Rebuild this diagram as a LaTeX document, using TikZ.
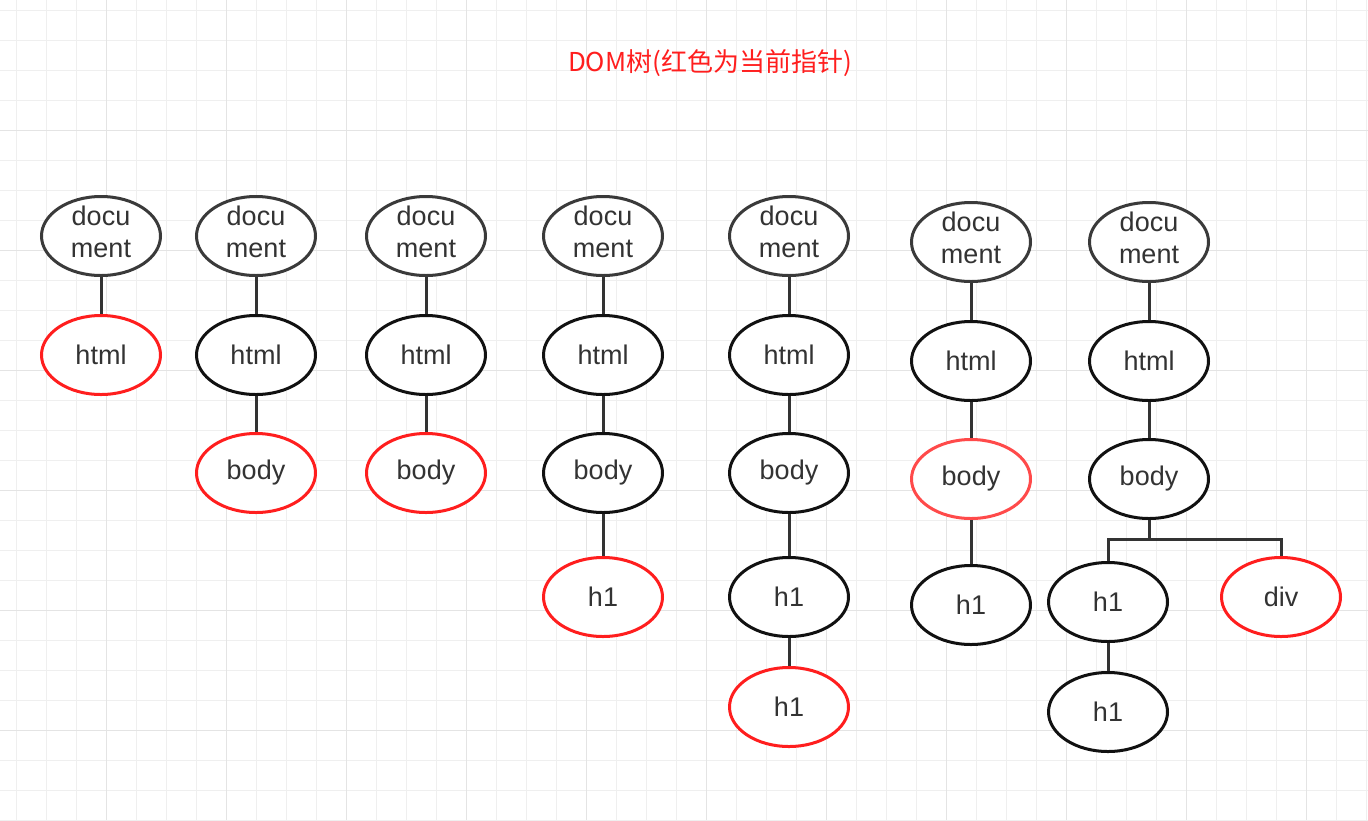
\documentclass[tikz,border=0pt]{standalone}
\usepackage{fontspec}
\setmainfont{Liberation Sans}
\newfontfamily\cjk{Noto Sans CJK SC}
\usetikzlibrary{shapes.geometric}
\definecolor{gridminor}{HTML}{EFEFEF}
\definecolor{gridmajor}{HTML}{E4E4E4}
\definecolor{ptrred}{HTML}{FF1E1E}
\definecolor{ptrredlight}{HTML}{FF4A4A}
\definecolor{nodeblack}{HTML}{111111}
\definecolor{docgrey}{HTML}{3A3A3A}
\definecolor{txtgrey}{HTML}{333333}
\definecolor{edgegrey}{HTML}{333333}
\newcommand{\doclabel}{\raisebox{-5.5pt}[0pt][0pt]{\begin{tabular}{@{}c@{}}docu\\ment\end{tabular}}}
\tikzset{
  tnode/.style={ellipse, draw=nodeblack, line width=3pt, minimum width=119pt, minimum height=79pt,
    inner sep=0pt, align=center, text=txtgrey, font=\fontsize{27}{32}\selectfont, fill=white},
  docnode/.style={tnode, draw=docgrey},
  curnode/.style={tnode, draw=ptrred},
  curnodelight/.style={tnode, draw=ptrredlight},
  edge/.style={draw=edgegrey, line width=3pt},
}
\begin{document}
\begin{tikzpicture}[x=1pt,y=-1pt]
\useasboundingbox (0,0) rectangle (1368,820);
\fill[white] (0,0) rectangle (1368,820);
% grid
\foreach \i in {0,...,45} {\draw[gridminor, line width=1.5pt] (16.7+30*\i,0) -- (16.7+30*\i,820);}
\foreach \i in {0,...,27} {\draw[gridminor, line width=1.5pt] (0,10.7+30*\i) -- (1368,10.7+30*\i);}
\foreach \i in {0,...,10} {\draw[gridmajor, line width=1.5pt] (106.7+120*\i,0) -- (106.7+120*\i,820);}
\foreach \i in {0,...,5} {\draw[gridmajor, line width=1.5pt] (0,130.7+120*\i) -- (1368,130.7+120*\i);}
% title
\node[text=ptrred, font=\cjk\fontsize{26}{30}\selectfont] (title) at (710,63) {DOM树(红色为当前指针)};
% tree 1
\node[docnode] (d1) at (101,236) {\doclabel};
\node[curnode] (h1a) at (101,355) {html};
\draw[edge] (d1) -- (h1a);
% tree 2
\node[docnode] (d2) at (256,236) {\doclabel};
\node[tnode] (ht2) at (256,355) {html};
\node[curnode] (b2) at (256,473) {body};
\draw[edge] (d2) -- (ht2);
\draw[edge] (ht2) -- (b2);
% tree 3
\node[docnode] (d3) at (426,236) {\doclabel};
\node[tnode] (ht3) at (426,355) {html};
\node[curnode] (b3) at (426,473) {body};
\draw[edge] (d3) -- (ht3);
\draw[edge] (ht3) -- (b3);
% tree 4
\node[docnode] (d4) at (603,236) {\doclabel};
\node[tnode] (ht4) at (603,355) {html};
\node[tnode] (b4) at (603,473) {body};
\node[curnode] (hh4) at (603,597) {h1};
\draw[edge] (d4) -- (ht4);
\draw[edge] (ht4) -- (b4);
\draw[edge] (b4) -- (hh4);
% tree 5
\node[docnode] (d5) at (789,236) {\doclabel};
\node[tnode] (ht5) at (789,355) {html};
\node[tnode] (b5) at (789,473) {body};
\node[tnode] (hh5) at (789,597) {h1};
\node[curnode] (hhh5) at (789,707) {h1};
\draw[edge] (d5) -- (ht5);
\draw[edge] (ht5) -- (b5);
\draw[edge] (b5) -- (hh5);
\draw[edge] (hh5) -- (hhh5);
% tree 6
\node[docnode] (d6) at (971,242) {\doclabel};
\node[tnode] (ht6) at (971,361) {html};
\node[curnodelight] (b6) at (971,479) {body};
\node[tnode] (hh6) at (971,605) {h1};
\draw[edge] (d6) -- (ht6);
\draw[edge] (ht6) -- (b6);
\draw[edge] (b6) -- (hh6);
% tree 7
\node[docnode] (d7) at (1149,242) {\doclabel};
\node[tnode] (ht7) at (1149,361) {html};
\node[tnode] (b7) at (1149,479) {body};
\node[tnode] (hh7) at (1108,602) {h1};
\node[tnode] (hhh7) at (1108,712) {h1};
\node[curnode] (dv7) at (1281,597) {div};
\coordinate (split) at (1149,539);
\draw[edge] (d7) -- (ht7);
\draw[edge] (ht7) -- (b7);
\draw[edge] (b7.south) -- (split) -| (hh7.north);
\draw[edge] (split) -| (dv7.north);
\draw[edge] (hh7) -- (hhh7);
\end{tikzpicture}
\end{document}
